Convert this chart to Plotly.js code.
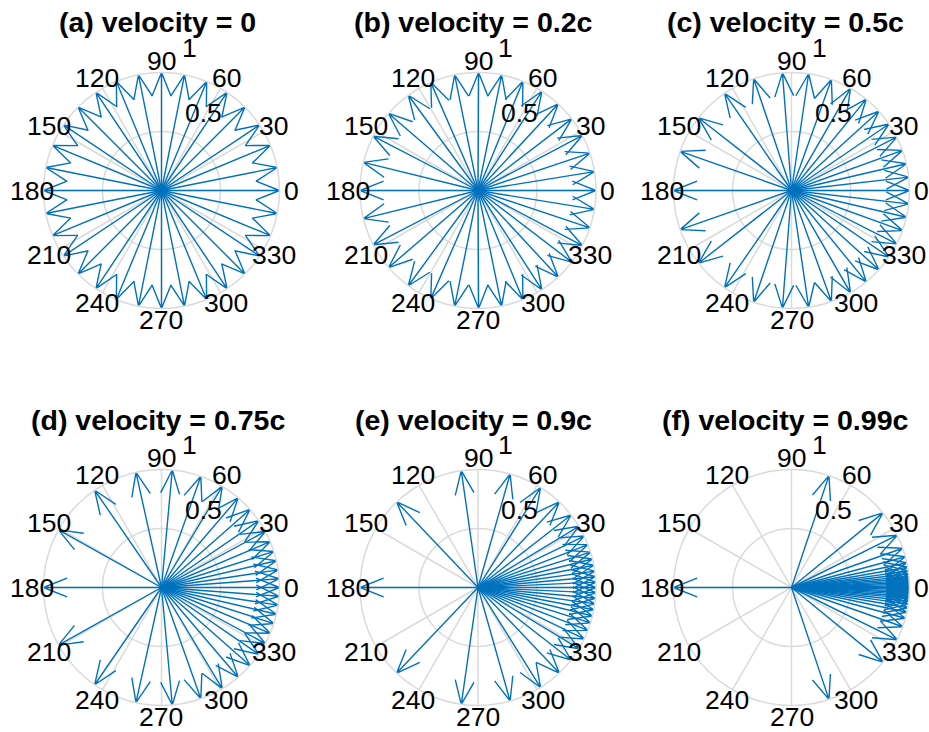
<!DOCTYPE html>
<html>
<head>
<meta charset="utf-8">
<script src="https://cdn.plot.ly/plotly-3.0.1.min.js"></script>
<style>html,body{margin:0;padding:0;background:#fff;}#chart{width:929px;height:732px;}</style>
</head>
<body>
<div id="chart"></div>
<script>
// ---- data (angles in degrees of the 32 unit arrows) ----
const panelTitles = ['(a) velocity = 0', '(b) velocity = 0.2c', '(c) velocity = 0.5c',
                     '(d) velocity = 0.75c', '(e) velocity = 0.9c', '(f) velocity = 0.99c'];

const anglesV0 = [0, 11.25, 22.5, 33.75, 45, 56.25, 67.5, 78.75, 90, 101.25, 112.5, 123.75, 135, 146.25, 157.5, 168.75,
                  180, 191.25, 202.5, 213.75, 225, 236.25, 247.5, 258.75, 270, 281.25, 292.5, 303.75, 315, 326.25, 337.5, 348.75];
const anglesV02 = [0, 9.20, 18.45, 27.82, 37.37, 47.16, 57.23, 67.65, 78.46, 89.71, 101.41, 113.58, 126.20, 139.24, 152.62, 166.24,
                   180, 193.76, 207.38, 220.76, 233.80, 246.42, 258.59, 270.29, 281.54, 292.35, 302.77, 312.84, 322.63, 332.18, 341.55, 350.80];
const anglesV05 = [0, 6.51, 13.10, 19.87, 26.90, 34.30, 42.19, 50.71, 60.00, 70.25, 81.66, 94.41, 108.69, 124.56, 141.98, 160.64,
                   180, 199.36, 218.02, 235.44, 251.31, 265.59, 278.34, 289.75, 300.00, 309.29, 317.81, 325.70, 333.10, 340.13, 346.90, 353.49];
const anglesV075 = [0, 4.26, 8.60, 13.08, 17.80, 22.84, 28.35, 34.47, 41.41, 49.46, 58.99, 70.53, 84.76, 102.50, 124.49, 150.79,
                    180, 209.21, 235.51, 257.50, 275.24, 289.47, 301.01, 310.54, 318.59, 325.53, 331.65, 337.16, 342.20, 346.92, 351.40, 355.74];
const anglesV09 = [0, 2.59, 5.23, 7.96, 10.86, 13.98, 17.43, 21.33, 25.84, 31.24, 37.90, 46.46, 57.96, 74.20, 98.15, 133.53,
                   180, 226.47, 261.85, 285.80, 302.04, 313.54, 322.10, 328.76, 334.16, 338.67, 342.57, 346.02, 349.14, 352.04, 354.77, 357.41];
const anglesV099 = [0, 0.80, 1.62, 2.46, 3.36, 4.34, 5.42, 6.66, 8.11, 9.87, 12.11, 15.11, 19.42, 26.31, 39.23, 71.49,
                    180, 288.51, 320.77, 333.69, 340.58, 344.89, 347.89, 350.13, 351.89, 353.34, 354.58, 355.66, 356.64, 357.54, 358.38, 359.20];
const arrowLength = 1;

const angularTicks = [0, 30, 60, 90, 120, 150, 180, 210, 240, 270, 300, 330];
const angularTickLabels = ['0', '30', '60', '90', '120', '150', '180', '210', '240', '270', '300', '330'];
const radialTicks = [0.5, 1];
const radialTickLabels = ['0.5', '1'];

// ---- styling / layout ----
const W = 929, H = 732;
const R = 118;                       // circle radius in px
const colCenters = [161.5, 478, 791.5];
const rowCenters = [190.5, 587.5];   // from top
const titleX = [157.5, 473.5, 785];
const titleY = [22.5, 419.5];        // from top
const arrowColor = '#0072BD';
const gridColor = '#dadada';
const FONT = 'Liberation Sans, Arial, Helvetica, sans-serif';

// label placement (radius factor for angular labels; polar position of radial labels)
const angLabelR = 1.1;
const radialLabelPos = [{r: 0.745, t: 61.8}, {r: 1.231, t: 78.9}];

const panelAngles = [anglesV0, anglesV02, anglesV05, anglesV075, anglesV09, anglesV099];

// compass-style arrow: shaft + two barbs (head length 0.2, half-width 0.08 of the arrow length)
const barbR = Math.sqrt(0.8 * 0.8 + 0.08 * 0.08);
const barbDeg = Math.atan2(0.08, 0.8) * 180 / Math.PI;

const traces = [];
const layout = {
  width: W, height: H,
  margin: {l: 0, r: 0, t: 0, b: 0},
  paper_bgcolor: '#fff',
  showlegend: false,
  annotations: []
};

function labelAnn(cx, cy, r, deg, txt) {
  const a = deg * Math.PI / 180;
  return {
    text: txt, xref: 'paper', yref: 'paper',
    x: (cx + R * r * Math.cos(a)) / W,
    y: (H - cy + R * r * Math.sin(a)) / H,
    xanchor: 'center', yanchor: 'middle', showarrow: false,
    font: {family: FONT, size: 26.5, color: '#000'}
  };
}

panelAngles.forEach((angs, i) => {
  const row = Math.floor(i / 3), col = i % 3;
  const pid = i === 0 ? 'polar' : 'polar' + (i + 1);
  const cx = colCenters[col], cy = rowCenters[row];

  layout[pid] = {
    domain: {
      x: [(cx - R) / W, (cx + R) / W],
      y: [(H - cy - R) / H, (H - cy + R) / H]
    },
    bgcolor: '#fff',
    radialaxis: {
      range: [0, 1], tickvals: radialTicks, showticklabels: false, ticks: '',
      showline: false, showgrid: true, gridcolor: gridColor, gridwidth: 1.5
    },
    angularaxis: {
      tickvals: angularTicks, showticklabels: false, ticks: '',
      showgrid: true, gridcolor: gridColor, gridwidth: 1.5,
      showline: true, linecolor: gridColor, linewidth: 1.5,
      rotation: 0, direction: 'counterclockwise'
    }
  };

  const r = [], th = [];
  angs.forEach(a => {
    r.push(0, arrowLength, barbR * arrowLength, arrowLength, barbR * arrowLength, null);
    th.push(a, a, a + barbDeg, a, a - barbDeg, null);
  });
  traces.push({
    type: 'scatterpolar', subplot: pid, mode: 'lines', r: r, theta: th,
    line: {color: arrowColor, width: 1.4}, hoverinfo: 'skip', connectgaps: false
  });

  angularTicks.forEach((t, k) => {
    layout.annotations.push(labelAnn(cx, cy, angLabelR, t, angularTickLabels[k]));
  });
  radialLabelPos.forEach((p, k) => {
    layout.annotations.push(labelAnn(cx, cy, p.r, p.t, radialTickLabels[k]));
  });

  layout.annotations.push({
    text: '<b>' + panelTitles[i] + '</b>',
    xref: 'paper', yref: 'paper',
    x: titleX[col] / W, y: (H - titleY[row]) / H,
    xanchor: 'center', yanchor: 'middle', showarrow: false,
    font: {family: FONT, size: 28.5, color: '#000'}
  });
});

Plotly.newPlot('chart', traces, layout, {staticPlot: true, displayModeBar: false});
</script>
</body>
</html>
